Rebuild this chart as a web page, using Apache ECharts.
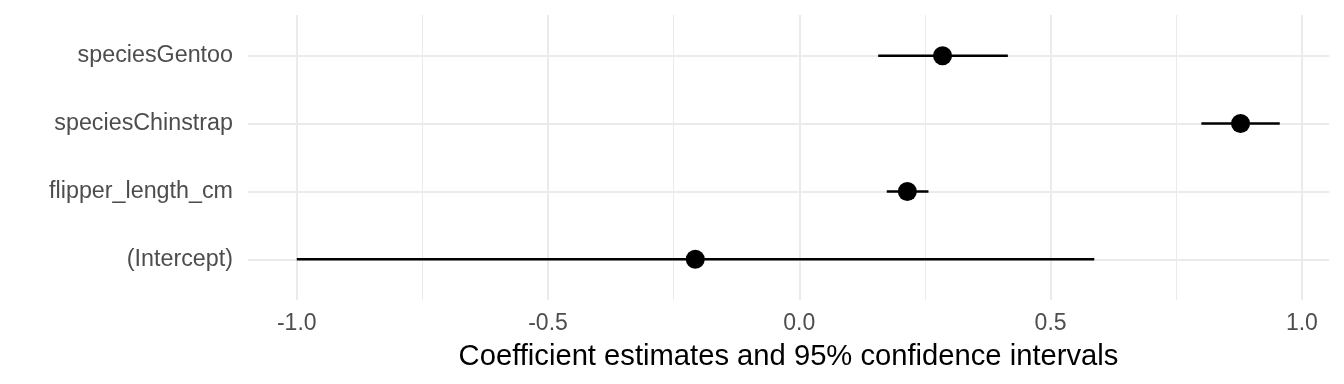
<!DOCTYPE html>
<html>
<head>
<meta charset="utf-8">
<script src="https://cdn.jsdelivr.net/npm/echarts@6/dist/echarts.min.js"></script>
<style>
  html, body { margin: 0; padding: 0; background: #ffffff; }
  #chart { width: 1344px; height: 384px; }
</style>
</head>
<body>
<div id="chart"></div>
<script>
// Terms, bottom to top
var terms = ['(Intercept)', 'flipper_length_cm', 'speciesChinstrap', 'speciesGentoo'];
var estimates = [-0.207, 0.215, 0.878, 0.285];
var lowerCI = [-1.0, 0.174, 0.800, 0.157];
var upperCI = [0.587, 0.257, 0.956, 0.415];
var majorTicks = [-1.0, -0.5, 0.0, 0.5, 1.0];
var minorTicks = [-0.75, -0.25, 0.25, 0.75];
var rowTicks = [0, 1, 2, 3];

var FONT = '"Liberation Sans", Arial, Helvetica, sans-serif';
var GRID = '#EBEBEB';
var X_MIN = -1.097, X_MAX = 1.054;

var chart = echarts.init(document.getElementById('chart'), null, { renderer: 'canvas' });

var barData = terms.map(function (t, i) { return [lowerCI[i], upperCI[i], i]; });
var pointData = terms.map(function (t, i) { return [estimates[i], i]; });

chart.setOption({
  animation: false,
  backgroundColor: '#ffffff',
  grid: { left: 248, right: 15, top: 15, bottom: 84, containLabel: false },
  xAxis: [
    {
      type: 'value', min: X_MIN, max: X_MAX, position: 'bottom',
      axisLine: { show: false },
      axisTick: { show: false, customValues: majorTicks },
      axisLabel: {
        customValues: majorTicks,
        formatter: function (v) { return v.toFixed(1); },
        color: '#4D4D4D', fontSize: 23, fontFamily: FONT, margin: 12
      },
      splitLine: { show: true, lineStyle: { color: GRID, width: 2 } },
      name: 'Coefficient estimates and 95% confidence intervals',
      nameLocation: 'middle', nameGap: 42,
      nameTextStyle: { color: '#000000', fontSize: 29.2, fontFamily: FONT }
    },
    {
      type: 'value', min: X_MIN, max: X_MAX, position: 'top',
      axisLine: { show: false },
      axisTick: { show: false, customValues: minorTicks },
      axisLabel: { show: false, customValues: minorTicks },
      splitLine: { show: true, lineStyle: { color: GRID, width: 1 } }
    }
  ],
  yAxis: {
    type: 'value', min: -0.6, max: 3.6,
    axisLine: { show: false },
    axisTick: { show: false, customValues: rowTicks },
    axisLabel: {
      customValues: rowTicks,
      formatter: function (v) { return terms[Math.round(v)]; },
      color: '#4D4D4D', fontSize: 23.3, fontFamily: FONT, margin: 15
    },
    splitLine: { show: true, lineStyle: { color: GRID, width: 2 } }
  },
  series: [
    {
      type: 'custom', xAxisIndex: 0, yAxisIndex: 0,
      data: barData,
      renderItem: function (params, api) {
        var a = api.coord([api.value(0), api.value(2)]);
        var b = api.coord([api.value(1), api.value(2)]);
        return {
          type: 'line',
          shape: { x1: a[0], y1: a[1], x2: b[0], y2: b[1] },
          style: { stroke: '#000000', lineWidth: 2.5 }
        };
      },
      z: 3
    },
    {
      type: 'scatter', xAxisIndex: 0, yAxisIndex: 0,
      data: pointData, symbol: 'circle', symbolSize: 19,
      itemStyle: { color: '#000000', opacity: 1 }, z: 4
    }
  ]
});
</script>
</body>
</html>
